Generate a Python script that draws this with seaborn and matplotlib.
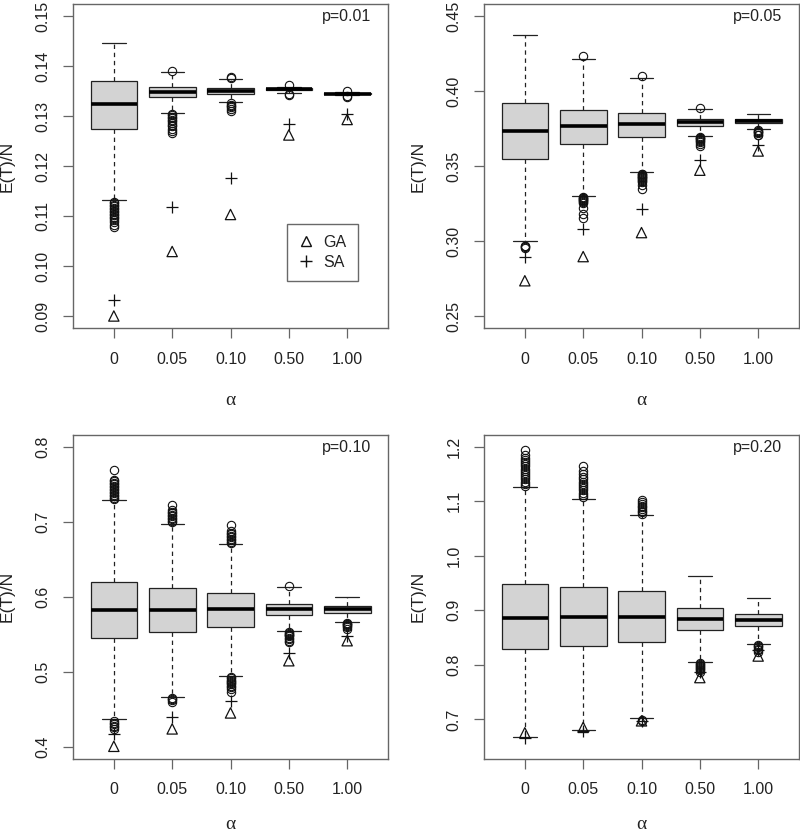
import numpy as np
import pandas as pd
import seaborn as sea
import matplotlib.pyplot as plt
from matplotlib.lines import Line2D

alphas = ["0", "0.05", "0.10", "0.50", "1.00"]
titles = ["p=0.01", "p=0.05", "p=0.10", "p=0.20"]

# box summaries, one list per panel
whi = [[0.1446, 0.1389, 0.1374, 0.1358, 0.1348],
       [0.4371, 0.4212, 0.4085, 0.3879, 0.3844],
       [0.7286, 0.6975, 0.6708, 0.6130, 0.5999],
       [1.1264, 1.1050, 1.0757, 0.9624, 0.9235]]
q3 = [[0.1370, 0.1359, 0.1357, 0.1356, 0.1346],
      [0.3919, 0.3875, 0.3853, 0.3816, 0.3811],
      [0.6190, 0.6110, 0.6045, 0.5908, 0.5875],
      [0.9480, 0.9436, 0.9355, 0.9035, 0.8924]]
med = [[0.1324, 0.1349, 0.1351, 0.1354, 0.1345],
       [0.3733, 0.3764, 0.3778, 0.3796, 0.3798],
       [0.5822, 0.5820, 0.5830, 0.5835, 0.5830],
       [0.8857, 0.8870, 0.8870, 0.8850, 0.8828]]
q1 = [[0.1274, 0.1338, 0.1345, 0.1352, 0.1344],
      [0.3547, 0.3645, 0.3693, 0.3769, 0.3784],
      [0.5455, 0.5530, 0.5600, 0.5757, 0.5786],
      [0.8285, 0.8345, 0.8418, 0.8640, 0.8705]]
wlo = [[0.1132, 0.1307, 0.1329, 0.1347, 0.1342],
       [0.2998, 0.3302, 0.3459, 0.3703, 0.3747],
       [0.4365, 0.4667, 0.4937, 0.5537, 0.5666],
       [0.6682, 0.6804, 0.7030, 0.8060, 0.8378]]

out_hi = [
    [[], [0.1391], [0.1376, 0.1378], [0.1363], [0.1350]],
    [[], [0.4232], [0.4103], [0.3889], []],
    [[0.7300, 0.7320, 0.7340, 0.7360, 0.7380, 0.7400, 0.7420, 0.7440,
      0.7460, 0.7480, 0.7500, 0.7520, 0.7540, 0.7560, 0.7690],
     [0.6995, 0.7010, 0.7030, 0.7050, 0.7070, 0.7090, 0.7110, 0.7130,
      0.7160, 0.7228],
     [0.6720, 0.6735, 0.6750, 0.6770, 0.6790, 0.6810, 0.6830, 0.6850,
      0.6870, 0.6953],
     [0.6140], []],
    [[1.128, 1.132, 1.136, 1.140, 1.144, 1.148, 1.152, 1.156, 1.160,
      1.164, 1.168, 1.172, 1.176, 1.180, 1.185, 1.1934],
     [1.108, 1.112, 1.116, 1.120, 1.124, 1.128, 1.132, 1.136, 1.140,
      1.145, 1.150, 1.156, 1.1647],
     [1.077, 1.080, 1.083, 1.086, 1.089, 1.092, 1.095, 1.098, 1.1026],
     [], []],
]
out_lo = [
    [[0.1129, 0.1126, 0.1123, 0.1120, 0.1117, 0.1114, 0.1111, 0.1108,
      0.1105, 0.1102, 0.1099, 0.1096, 0.1092, 0.1088, 0.1083, 0.1079],
     [0.1305, 0.1302, 0.1299, 0.1296, 0.1293, 0.1290, 0.1287, 0.1283,
      0.1279, 0.1274, 0.1270, 0.1267],
     [0.1326, 0.1323, 0.1320, 0.1317, 0.1314, 0.1311],
     [0.1344, 0.1342],
     [0.1340, 0.1339]],
    [[0.2970, 0.2965, 0.2960, 0.2956],
     [0.3292, 0.3288, 0.3284, 0.3280, 0.3276, 0.3272, 0.3268, 0.3262,
      0.3255, 0.3220, 0.3182, 0.3151],
     [0.3450, 0.3445, 0.3440, 0.3435, 0.3430, 0.3425, 0.3420, 0.3414,
      0.3408, 0.3400, 0.3390, 0.3370, 0.3344],
     [0.3695, 0.3690, 0.3685, 0.3680, 0.3675, 0.3668, 0.3660, 0.3650, 0.3636],
     [0.3740, 0.3735, 0.3730, 0.3725, 0.3718, 0.3710, 0.3705]],
    [[0.4345, 0.4320, 0.4300, 0.4280, 0.4260, 0.4237],
     [0.4655, 0.4640, 0.4620, 0.4597],
     [0.4925, 0.4910, 0.4895, 0.4880, 0.4865, 0.4850, 0.4830, 0.4810,
      0.4790, 0.4765, 0.4724],
     [0.5525, 0.5515, 0.5505, 0.5495, 0.5485, 0.5470, 0.5455, 0.5435,
      0.5410, 0.5390],
     [0.5650, 0.5640, 0.5630, 0.5620, 0.5605, 0.5590, 0.5569]],
    [[], [],
     [0.6990, 0.6970],
     [0.8040, 0.8020, 0.8000, 0.7980, 0.7960, 0.7940, 0.7920, 0.7900, 0.7870],
     [0.8360, 0.8340, 0.8320, 0.8300, 0.8270, 0.8235]],
]

ga = [[0.0900, 0.1029, 0.1103, 0.1262, 0.1293],
      [0.2735, 0.2896, 0.3056, 0.3472, 0.3600],
      [0.4005, 0.4237, 0.4450, 0.5146, 0.5413],
      [0.6755, 0.6854, 0.6974, 0.7767, 0.8162]]
sa = [[0.0933, 0.1119, 0.1176, 0.1285, 0.1304],
      [0.2892, 0.3082, 0.3215, 0.3543, 0.3640],
      [0.4170, 0.4400, 0.4614, 0.5249, 0.5480],
      [0.6653, 0.6790, 0.6970, 0.7870, 0.8266]]

ylims = [(0.09, 0.15), (0.25, 0.45), (0.4, 0.8), (0.65, 1.2)]
yticks = [["0.09", "0.10", "0.11", "0.12", "0.13", "0.14", "0.15"],
          ["0.25", "0.30", "0.35", "0.40", "0.45"],
          ["0.4", "0.5", "0.6", "0.7", "0.8"],
          ["0.7", "0.8", "0.9", "1.0", "1.1", "1.2"]]


def box_frame(k):
    # expand each summary into values whose quartiles/whiskers match it
    rows = []
    m = 200
    for j, a in enumerate(alphas):
        vals = (out_lo[k][j] + [wlo[k][j]] + [q1[k][j]] * m + [med[k][j]] * m
                + [q3[k][j]] * m + [whi[k][j]] + out_hi[k][j])
        for v in vals:
            rows.append((a, v))
    return pd.DataFrame(rows, columns=["alpha", "val"])


sea.set_style("white")
plt.rcParams["font.family"] = ["Liberation Sans", "DejaVu Sans"]
frame_col = "#666666"
text_col = "#222222"

fig = plt.figure(figsize=(8, 8.36), dpi=100)
w = 315 / 800
h = 324 / 836
spots = [(73 / 800, 1 - 328 / 836), (484 / 800, 1 - 328 / 836),
         (73 / 800, 1 - 758.7 / 836), (484 / 800, 1 - 758.7 / 836)]

for k in range(4):
    ax = fig.add_axes([spots[k][0], spots[k][1], w, h])
    df = box_frame(k)
    sea.boxplot(data=df, x="alpha", y="val", order=alphas, ax=ax,
                color="#d3d3d3", saturation=1, width=0.8, whis=1.5,
                linecolor="#222222", linewidth=0.9, fliersize=6,
                flierprops=dict(marker="o", markerfacecolor="none",
                                markeredgecolor="#111111", markeredgewidth=0.8),
                medianprops=dict(color="black", linewidth=2.6),
                whiskerprops=dict(linestyle=(0, (3.5, 3))))
    pos = np.arange(len(alphas))
    ax.scatter(pos, ga[k], marker="^", s=55, facecolors="none",
               edgecolors="#111111", linewidths=0.9, zorder=5)
    ax.scatter(pos, sa[k], marker="+", s=80, color="#111111",
               linewidths=0.9, zorder=5)

    lo, hi = ylims[k]
    pad = (hi - lo) * 0.04
    ax.set_xlim(-0.7, 4.7)
    ax.set_ylim(lo - pad, hi + pad)
    ax.set_yticks([float(t) for t in yticks[k]])
    ax.set_yticklabels(yticks[k], rotation=90, va="center")
    ax.set_xticks(pos)
    ax.set_xticklabels(alphas)

    for s in ax.spines.values():
        s.set_color(frame_col)
        s.set_linewidth(1.0)
    ax.tick_params(axis="both", direction="out", length=7, width=0.9,
                   color=frame_col, labelcolor=text_col, labelsize=11.5,
                   left=True, bottom=True)
    ax.tick_params(axis="x", pad=10)
    ax.tick_params(axis="y", pad=9)

    ax.set_ylabel("E(T)/N", fontsize=12.5, color=text_col)
    ax.yaxis.set_label_coords(-66 / 315, 0.5)
    ax.set_xlabel("α", fontsize=14, color=text_col,
                  family=["Liberation Serif", "DejaVu Serif"])
    drop = 72 if k < 2 else 66
    ax.xaxis.set_label_coords(0.5, -drop / 324)
    ax.xaxis.label.set_va("center")
    ax.yaxis.label.set_va("center")

    ax.text(0.945, 0.962, titles[k], transform=ax.transAxes, ha="right",
            va="center", fontsize=11.5, color=text_col)

    if k == 0:
        handles = [Line2D([], [], marker="^", linestyle="none", markersize=7,
                          markerfacecolor="none", markeredgecolor="#111111"),
                   Line2D([], [], marker="+", linestyle="none", markersize=9,
                          color="#111111")]
        leg = ax.legend(handles, ["GA", "SA"], loc="upper left",
                        bbox_to_anchor=(0.679, 0.322), fontsize=11.5,
                        frameon=True, fancybox=False, handlelength=1.0,
                        handletextpad=0.6, borderpad=0.7, labelspacing=0.3,
                        borderaxespad=0)
        leg.get_frame().set_edgecolor("#444444")
        leg.get_frame().set_linewidth(1.0)
        for t in leg.get_texts():
            t.set_color(text_col)

fig.savefig("out.png", dpi=100, facecolor="white")
